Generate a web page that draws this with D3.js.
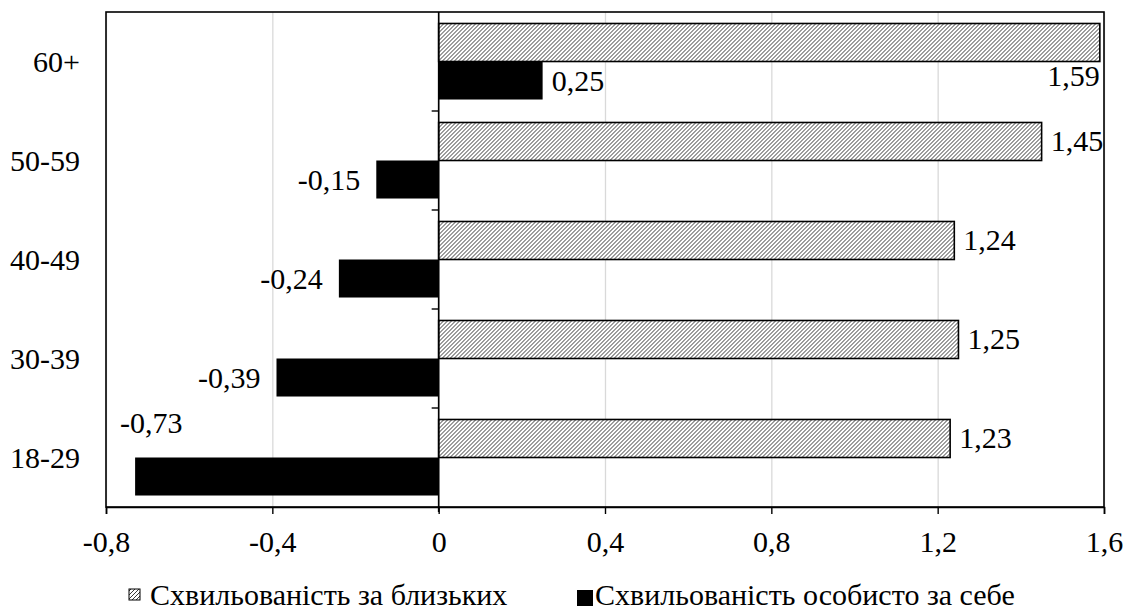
<!DOCTYPE html>
<html>
<head>
<meta charset="utf-8">
<script src="https://cdn.jsdelivr.net/npm/d3@7"></script>
<style>
  html, body { margin: 0; padding: 0; background: #fff; }
  svg { display: block; }
</style>
</head>
<body>
<svg id="chart" width="1128" height="612"></svg>
<script>
// Age groups, top to bottom
const categories = ["60+", "50-59", "40-49", "30-39", "18-29"];
// Worry about relatives
const worryRelatives = [1.59, 1.45, 1.24, 1.25, 1.23];
// Worry about oneself
const worrySelf = [0.25, -0.15, -0.24, -0.39, -0.73];
const seriesNames = ["Схвильованість за близьких", "Схвильованість особисто за себе"];
const xTickValues = [-0.8, -0.4, 0, 0.4, 0.8, 1.2, 1.6];

const plot = { left: 106, right: 1104, top: 12, bottom: 507 };
const FONT = 30;
const FAMILY = "'Liberation Serif'";

const svg = d3.select("#chart");
const fmt = v => String(v).replace(".", ",");

// hatch pattern for the first series
const defs = svg.append("defs");
const pat = defs.append("pattern")
  .attr("id", "hatch").attr("patternUnits", "userSpaceOnUse")
  .attr("width", 4).attr("height", 4);
pat.append("rect").attr("width", 4).attr("height", 4).attr("fill", "#fff");
pat.append("path")
  .attr("d", "M-1,1 l2,-2 M0,4 l4,-4 M3,5 l2,-2")
  .attr("stroke", "#3a3a3a").attr("stroke-width", 1);

const x = d3.scaleLinear().domain([-0.8, 1.6]).range([plot.left, plot.right]);
const y = d3.scaleBand().domain(categories)
  .range([plot.top, plot.bottom]).paddingInner(0.232).paddingOuter(0.116);
const ySub = d3.scaleBand().domain(seriesNames).range([0, y.bandwidth()]);

const rows = categories.map((c, i) => ({ cat: c, vals: [worryRelatives[i], worrySelf[i]] }));

function styleText(sel) {
  return sel.style("font-family", FAMILY).style("font-size", FONT + "px").attr("fill", "#000");
}

function label(g, tx, ty, str, anchor) {
  return styleText(g.append("text")
    .attr("x", tx).attr("y", ty)
    .attr("text-anchor", anchor)
    .text(str));
}

// vertical gridlines
const grid = svg.append("g")
  .attr("transform", `translate(0,${plot.bottom})`)
  .call(d3.axisBottom(x).tickValues(xTickValues)
    .tickSize(-(plot.bottom - plot.top)).tickFormat(""));
grid.select(".domain").remove();
grid.selectAll("line").attr("stroke", "#d9d9d9").attr("stroke-width", 1.3);

// bars
const groups = svg.append("g").selectAll("g").data(rows).join("g")
  .attr("transform", d => `translate(0,${y(d.cat)})`);

groups.append("rect")
  .attr("x", d => x(Math.min(0, d.vals[0])))
  .attr("y", ySub(seriesNames[0]))
  .attr("width", d => Math.abs(x(d.vals[0]) - x(0)))
  .attr("height", ySub.bandwidth())
  .attr("fill", "url(#hatch)")
  .attr("stroke", "#000").attr("stroke-width", 1.6);

groups.append("rect")
  .attr("x", d => x(Math.min(0, d.vals[1])))
  .attr("y", ySub(seriesNames[1]))
  .attr("width", d => Math.abs(x(d.vals[1]) - x(0)))
  .attr("height", ySub.bandwidth())
  .attr("fill", "#000");

// plot frame
svg.append("rect")
  .attr("x", plot.left).attr("y", plot.top)
  .attr("width", plot.right - plot.left).attr("height", plot.bottom - plot.top)
  .attr("fill", "none").attr("stroke", "#000").attr("stroke-width", 1.6);

// bottom value axis
const xAxis = svg.append("g")
  .attr("transform", `translate(0,${plot.bottom})`)
  .call(d3.axisBottom(x).tickValues(xTickValues).tickSizeOuter(0).tickSize(7).tickFormat(fmt));
xAxis.attr("font-family", null).attr("font-size", null);
xAxis.select(".domain").attr("stroke", "#000").attr("stroke-width", 1.6);
xAxis.selectAll(".tick line").attr("stroke", "#000").attr("stroke-width", 1.4);
styleText(xAxis.selectAll(".tick text").attr("y", 45).attr("dy", null));

// category axis crossing at zero, ticks between categories
const zeroAxis = svg.append("g").attr("transform", `translate(${x(0)},0)`);
zeroAxis.append("line")
  .attr("y1", plot.top).attr("y2", plot.bottom + 5)
  .attr("stroke", "#000").attr("stroke-width", 1.6);
const step = y.step();
const boundaries = categories.slice(1).map(c => y(c) - step * y.paddingInner() / 2);
zeroAxis.selectAll("line.tk").data(boundaries).join("line")
  .attr("class", "tk")
  .attr("x1", -7).attr("x2", 0)
  .attr("y1", d => d).attr("y2", d => d)
  .attr("stroke", "#000").attr("stroke-width", 1.4);

// category labels
const yAxis = svg.append("g")
  .attr("transform", `translate(${plot.left},0)`)
  .call(d3.axisLeft(y).tickSize(0).tickPadding(26));
yAxis.attr("font-family", null).attr("font-size", null);
yAxis.select(".domain").remove();
styleText(yAxis.selectAll(".tick text").attr("x", -26).attr("y", 10).attr("dy", null));

// data labels
const lab = svg.append("g");
rows.forEach((d, i) => {
  const top = y(d.cat);
  const v0 = d.vals[0];
  const cy0 = top + ySub(seriesNames[0]) + ySub.bandwidth() / 2;
  if (i === 0) {
    // no room to the right of the longest bar: label sits under its end
    label(lab, x(v0), cy0 + 44, fmt(v0), "end");
  } else {
    label(lab, x(v0) + 9, cy0 + 10, fmt(v0), "start");
  }
  const v1 = d.vals[1];
  const cy1 = top + ySub(seriesNames[1]) + ySub.bandwidth() / 2;
  if (v1 >= 0) {
    label(lab, x(v1) + 9, cy1 + 10, fmt(v1), "start");
  } else if (i === rows.length - 1) {
    label(lab, x(v1) - 15, top + 14, fmt(v1), "start");
  } else {
    label(lab, x(v1) - 16, cy1 + 10, fmt(v1), "end");
  }
});

// legend
const leg = svg.append("g");
leg.append("rect").attr("x", 129).attr("y", 589).attr("width", 11).attr("height", 11)
  .attr("fill", "url(#hatch)").attr("stroke", "#000").attr("stroke-width", 1);
label(leg, 150, 605, seriesNames[0], "start");
leg.append("rect").attr("x", 577).attr("y", 590).attr("width", 16).attr("height", 16)
  .attr("fill", "#000");
label(leg, 595, 605, seriesNames[1], "start");
</script>
</body>
</html>
